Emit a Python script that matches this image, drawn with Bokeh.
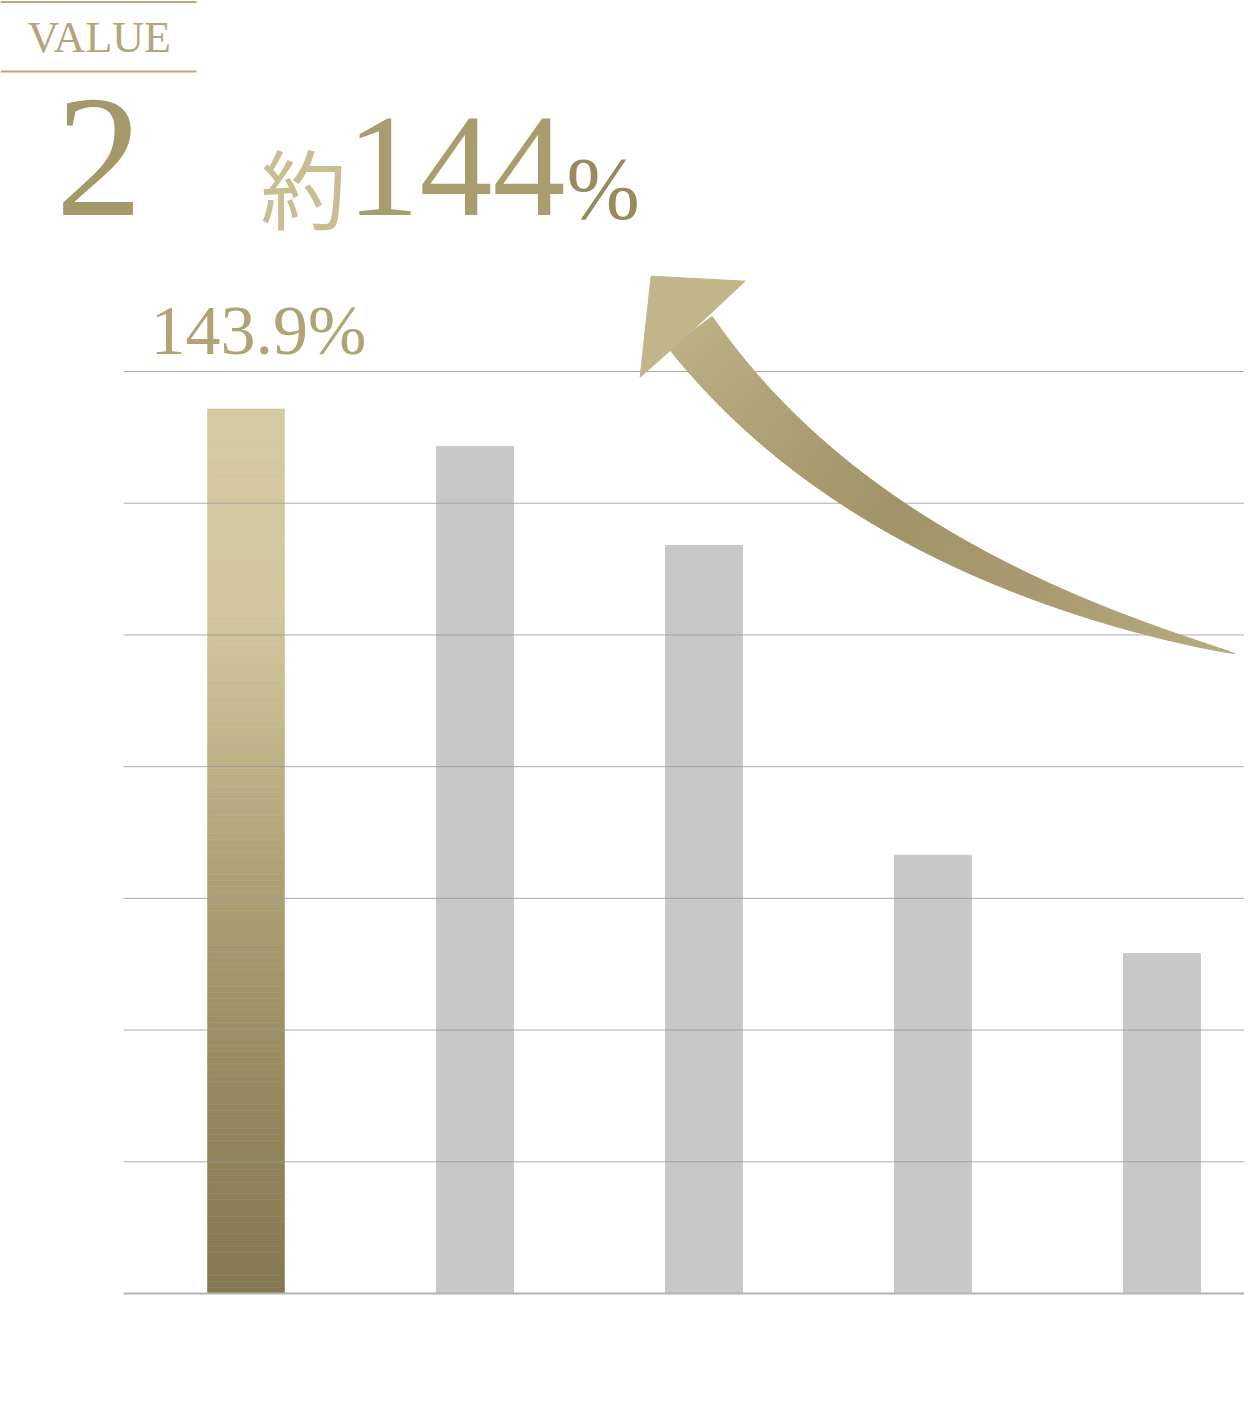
import numpy as np
from bokeh.plotting import figure
from bokeh.core.properties import value
from bokeh.embed import file_html
from bokeh.resources import INLINE

# data
positions = [0, 1, 2, 3, 4]
values = [143.9, 137.8, 121.7, 71.3, 55.3]
grid_values = [0, 21.43, 42.86, 64.29, 85.71, 107.14, 128.57, 150.0]
bar_label = "143.9%"
header = "VALUE"
number = "2"
head_prefix = "約"
head_value = "144"
head_unit = "%"

W, H = 1244, 1412
BAR_W = 0.336
GOLD = "#b0a376"
GREY = "#c8c8c8"


# reference pixel -> data units
def dx(px):
    return (px - 245.5) / 229.0


def dy(py):
    return (1293.0 - py) * 150.0 / 922.0


def base(py, size):
    # the svg text sits ~0.37em below the requested baseline
    return dy(py - 0.37 * size)


def hex2rgb(h):
    h = h.lstrip("#")
    return np.array([int(h[i:i + 2], 16) for i in (0, 2, 4)], dtype=float)


def mix(stops, f):
    for (p0, c0), (p1, c1) in zip(stops[:-1], stops[1:]):
        if p0 <= f <= p1:
            t = 0 if p1 == p0 else (f - p0) / (p1 - p0)
            c = hex2rgb(c0) * (1 - t) + hex2rgb(c1) * t
            return "#%02x%02x%02x" % tuple(int(round(v)) for v in c)
    return stops[-1][1]


p = figure(width=W, height=H, x_range=(dx(0), dx(W)), y_range=(dy(H), dy(0)),
           output_backend="svg", toolbar_location=None, min_border=0)
p.axis.visible = False
p.grid.visible = False
p.outline_line_color = None
p.background_fill_color = "white"
p.border_fill_color = "white"

# grey bars
p.vbar(x=positions[1:], top=values[1:], width=BAR_W, color=GREY)

# highlighted bar with a vertical gradient
bar_stops = [(0.0, "#857850"), (0.25, "#998b60"), (0.5, "#b2a479"), (0.7, "#cbbe94"),
             (0.78, "#d4c79e"), (1.0, "#d5c9a0")]
n = 150
edges = np.linspace(0, values[0], n + 1)
cols = [mix(bar_stops, (k + 0.5) / n) for k in range(n)]
p.quad(left=positions[0] - BAR_W / 2, right=positions[0] + BAR_W / 2,
       bottom=edges[:-1], top=edges[1:], fill_color=cols, line_color=cols, line_width=0.6)

# grid lines over the bars
p.segment(x0=dx(123), x1=dx(1260), y0=grid_values[1:], y1=grid_values[1:],
          line_color="#999999", line_alpha=0.8, line_width=1)
p.segment(x0=[dx(123)], x1=[dx(1260)], y0=[grid_values[0]], y1=[grid_values[0]],
          line_color="#b4b4b4", line_width=2)

# curved arrow (decoration)
P0 = np.array([1234.0, 653.0])
P1 = np.array([991.0, 593.0])
P2 = np.array([806.0, 488.0])
P3 = np.array([690.0, 332.0])
m = 80
ts = np.linspace(0, 1, m + 1)
pts = ((1 - ts) ** 3)[:, None] * P0 + (3 * (1 - ts) ** 2 * ts)[:, None] * P1 + \
      (3 * (1 - ts) * ts ** 2)[:, None] * P2 + (ts ** 3)[:, None] * P3
der = (3 * (1 - ts) ** 2)[:, None] * (P1 - P0) + (6 * (1 - ts) * ts)[:, None] * (P2 - P1) + \
      (3 * ts ** 2)[:, None] * (P3 - P2)
tan = der / np.linalg.norm(der, axis=1)[:, None]
nrm = np.stack([-tan[:, 1], tan[:, 0]], axis=1)
half = 27.0 * ts ** 0.75
side_a = pts + nrm * half[:, None]
side_b = pts - nrm * half[:, None]
arrow_stops = [(0.0, "#b8ab80"), (0.3, "#a89a6e"), (0.55, "#a29469"), (0.8, "#aea175"), (1.0, "#bcaf84")]
xs, ys, acols = [], [], []
for k in range(m):
    quad = [side_a[k], side_a[k + 1], side_b[k + 1], side_b[k]]
    xs.append([dx(q[0]) for q in quad])
    ys.append([dy(q[1]) for q in quad])
    acols.append(mix(arrow_stops, (k + 0.5) / m))
p.patches(xs, ys, fill_color=acols, line_color=acols, line_width=1)

head = [(650.6, 275.7), (744.5, 280.7), (709.8, 313.3), (669.8, 350.0), (639.6, 376.7)]
p.patch([dx(a) for a, b in head], [dy(b) for a, b in head],
        fill_color="#c2b58a", line_color="#c2b58a", line_width=1)

serif = value("Liberation Serif")

# header
p.segment(x0=[dx(0), dx(0)], x1=[dx(196), dx(196)], y0=[dy(1.5), dy(71)], y1=[dy(1.5), dy(71)],
          line_color="#b8aa7c", line_width=2)
p.text(x=[dx(27)], y=[base(53, 44)], text=[header], text_font=serif, text_font_size="44px",
       text_color="#b3a67a", text_baseline="alphabetic")

p.text(x=[dx(55)], y=[base(222, 174)], text=[number], text_font=serif, text_font_size="174px",
       text_color="#a5986b", text_baseline="alphabetic")
p.text(x=[dx(260)], y=[base(217, 86)], text=[head_prefix], text_font=value("Noto Sans CJK JP"),
       text_font_size="86px", text_color="#c9bd92", text_baseline="alphabetic")
p.text(x=[dx(346)], y=[base(221, 146)], text=[head_value], text_font=serif, text_font_size="146px",
       text_color="#a99c6e", text_baseline="alphabetic")
p.text(x=[dx(566)], y=[base(221, 88)], text=[head_unit], text_font=serif, text_font_size="88px",
       text_color="#968a5e", text_baseline="alphabetic")

# value label above the highlighted bar
p.text(x=[dx(150)], y=[base(356, 70)], text=[bar_label], text_font=serif, text_font_size="70px",
       text_color=GOLD, text_baseline="alphabetic")

open("out.html", "w").write(file_html(p, INLINE))
